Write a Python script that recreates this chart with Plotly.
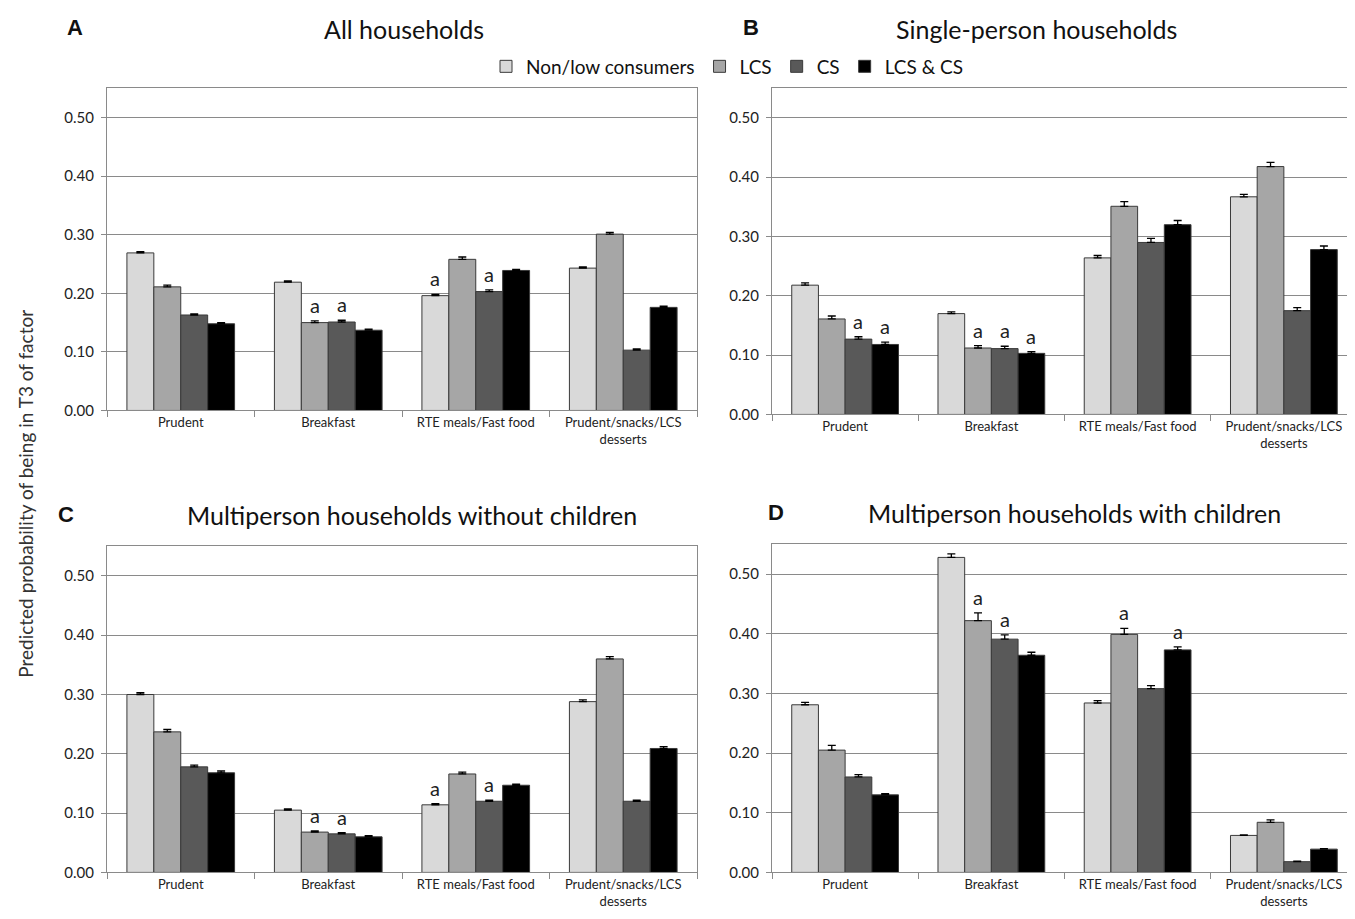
import plotly.graph_objects as go

# ---------------- data ----------------
categories = ["Prudent", "Breakfast", "RTE meals/Fast food", "Prudent/snacks/LCS<br>desserts"]
series_names = ["Non/low consumers", "LCS", "CS", "LCS & CS"]
series_colors = ["#d9d9d9", "#a6a6a6", "#595959", "#000000"]
y_tick_vals = [0.0, 0.1, 0.2, 0.3, 0.4, 0.5]
y_tick_text = ["0.00", "0.10", "0.20", "0.30", "0.40", "0.50"]

panel_letters = ["A", "B", "C", "D"]
panel_titles = ["All households", "Single-person households",
                "Multiperson households without children",
                "Multiperson households with children"]

# Panel A: All households
A_nonlow = [0.269, 0.219, 0.196, 0.243]
A_lcs = [0.211, 0.150, 0.258, 0.301]
A_cs = [0.163, 0.151, 0.203, 0.103]
A_both = [0.148, 0.137, 0.239, 0.176]
A_nonlow_err = [0.002, 0.002, 0.002, 0.002]
A_lcs_err = [0.003, 0.003, 0.004, 0.003]
A_cs_err = [0.002, 0.003, 0.003, 0.002]
A_both_err = [0.002, 0.002, 0.002, 0.002]
A_marks = [(1, 1), (2, 1), (0, 2), (2, 2)]

# Panel B: Single-person households
B_nonlow = [0.218, 0.170, 0.264, 0.367]
B_lcs = [0.161, 0.112, 0.351, 0.418]
B_cs = [0.127, 0.111, 0.290, 0.175]
B_both = [0.118, 0.103, 0.320, 0.278]
B_nonlow_err = [0.004, 0.003, 0.004, 0.004]
B_lcs_err = [0.005, 0.004, 0.008, 0.007]
B_cs_err = [0.004, 0.004, 0.007, 0.005]
B_both_err = [0.004, 0.003, 0.007, 0.006]
B_marks = [(2, 0), (3, 0), (1, 1), (2, 1), (3, 1)]

# Panel C: Multiperson households without children
C_nonlow = [0.300, 0.105, 0.114, 0.288]
C_lcs = [0.237, 0.068, 0.166, 0.360]
C_cs = [0.178, 0.065, 0.120, 0.120]
C_both = [0.168, 0.060, 0.147, 0.209]
C_nonlow_err = [0.003, 0.002, 0.002, 0.003]
C_lcs_err = [0.004, 0.002, 0.003, 0.004]
C_cs_err = [0.003, 0.002, 0.002, 0.002]
C_both_err = [0.003, 0.002, 0.002, 0.003]
C_marks = [(1, 1), (2, 1), (0, 2), (2, 2)]

# Panel D: Multiperson households with children
D_nonlow = [0.281, 0.528, 0.284, 0.062]
D_lcs = [0.205, 0.422, 0.399, 0.084]
D_cs = [0.160, 0.391, 0.308, 0.018]
D_both = [0.130, 0.364, 0.373, 0.039]
D_nonlow_err = [0.004, 0.006, 0.004, 0.001]
D_lcs_err = [0.008, 0.013, 0.010, 0.004]
D_cs_err = [0.004, 0.007, 0.005, 0.001]
D_both_err = [0.002, 0.005, 0.005, 0.001]
D_marks = [(1, 1), (2, 1), (1, 2), (3, 2)]

# ---------------- layout geometry ----------------
W, H = 1355, 919
FONT = "Lato"
GRID = "#8a8a8a"
BARGAP = 0.27

panels = [
    dict(vals=[A_nonlow, A_lcs, A_cs, A_both],
         errs=[A_nonlow_err, A_lcs_err, A_cs_err, A_both_err], marks=A_marks,
         xdom=[99, 689], ydom=[406, 81], letter_xy=(67, 20), title_xy=(396, 21)),
    dict(vals=[B_nonlow, B_lcs, B_cs, B_both],
         errs=[B_nonlow_err, B_lcs_err, B_cs_err, B_both_err], marks=B_marks,
         xdom=[764, 1349], ydom=[410, 81], letter_xy=(743, 20), title_xy=(1028, 21)),
    dict(vals=[C_nonlow, C_lcs, C_cs, C_both],
         errs=[C_nonlow_err, C_lcs_err, C_cs_err, C_both_err], marks=C_marks,
         xdom=[99, 689], ydom=[872, 543], letter_xy=(58, 511), title_xy=(404, 511)),
    dict(vals=[D_nonlow, D_lcs, D_cs, D_both],
         errs=[D_nonlow_err, D_lcs_err, D_cs_err, D_both_err], marks=D_marks,
         xdom=[764, 1349], ydom=[872, 541], letter_xy=(768, 509), title_xy=(1066, 509)),
]

fig = go.Figure()
annotations = []
layout_axes = {}

for p, panel in enumerate(panels):
    sfx = "" if p == 0 else str(p + 1)
    xref, yref = "x" + sfx, "y" + sfx
    for j in range(4):
        fig.add_trace(go.Bar(
            x=categories, y=panel["vals"][j], name=series_names[j],
            marker=dict(color=series_colors[j], line=dict(color="#3a3a3a", width=1)),
            error_y=dict(type="data", array=panel["errs"][j], symmetric=False,
                         arrayminus=[0] * 4, color="#000000", thickness=1.3, width=4),
            xaxis=xref, yaxis=yref, offsetgroup=str(j),
            showlegend=(p == 0), legendgroup=series_names[j],
        ))
    x0, x1 = panel["xdom"]
    yb, yt = panel["ydom"]
    layout_axes["xaxis" + sfx] = dict(
        domain=[x0 / W, x1 / W], anchor=yref, type="category",
        showline=True, mirror=True, linecolor=GRID, linewidth=1,
        showgrid=False, ticks="outside", tickson="boundaries", ticklen=6,
        tickcolor=GRID, tickfont=dict(family=FONT, size=13, color="#222"),
        fixedrange=True,
    )
    layout_axes["yaxis" + sfx] = dict(
        domain=[1 - yb / H, 1 - yt / H], anchor=xref, range=[0, 0.55],
        tickvals=y_tick_vals, ticktext=y_tick_text,
        showgrid=True, gridcolor=GRID, gridwidth=1,
        showline=True, mirror=True, linecolor=GRID, linewidth=1,
        zeroline=False, ticks="outside", ticklen=5, tickcolor=GRID,
        ticklabelstandoff=4,
        tickfont=dict(family=FONT, size=15, color="#222"), fixedrange=True,
    )
    # significance marks
    cat_px = (x1 - x0) / 4.0
    bar_px = cat_px * (1 - BARGAP) / 4.0
    for (j, c) in panel["marks"]:
        annotations.append(dict(
            x=categories[c], y=panel["vals"][j][c] + panel["errs"][j][c],
            xref=xref, yref=yref, text="a", showarrow=False,
            xshift=(j - 1.5) * bar_px, yshift=2, yanchor="bottom",
            font=dict(family=FONT, size=20, color="#222"),
        ))
    lx, ly = panel["letter_xy"]
    annotations.append(dict(x=lx / W, y=1 - ly / H, xref="paper", yref="paper",
                            text="<b>" + panel_letters[p] + "</b>", showarrow=False,
                            xanchor="center", yanchor="middle",
                            font=dict(family="Liberation Sans", size=22, color="#111")))
    tx, ty = panel["title_xy"]
    annotations.append(dict(x=tx / W, y=1 - ty / H, xref="paper", yref="paper",
                            text=panel_titles[p], showarrow=False,
                            xanchor="center", yanchor="middle",
                            font=dict(family=FONT, size=25, color="#111")))

annotations.append(dict(x=18 / W, y=1 - 490 / H, xref="paper", yref="paper",
                        text="Predicted probability of being in T3 of factor",
                        textangle=-90, showarrow=False, xanchor="center", yanchor="middle",
                        font=dict(family=FONT, size=19, color="#333")))

fig.update_layout(
    width=W, height=H, autosize=False,
    margin=dict(l=0, r=0, t=0, b=0),
    paper_bgcolor="white", plot_bgcolor="white",
    barmode="group", bargap=BARGAP, bargroupgap=0,
    showlegend=True,
    legend=dict(orientation="h", x=478 / W, y=1 - 59 / H, xanchor="left", yanchor="middle",
                font=dict(family=FONT, size=19, color="#111"), itemwidth=30,
                bgcolor="rgba(0,0,0,0)", tracegroupgap=0),
    annotations=annotations,
    **layout_axes,
)

fig.write_html("out.html")
